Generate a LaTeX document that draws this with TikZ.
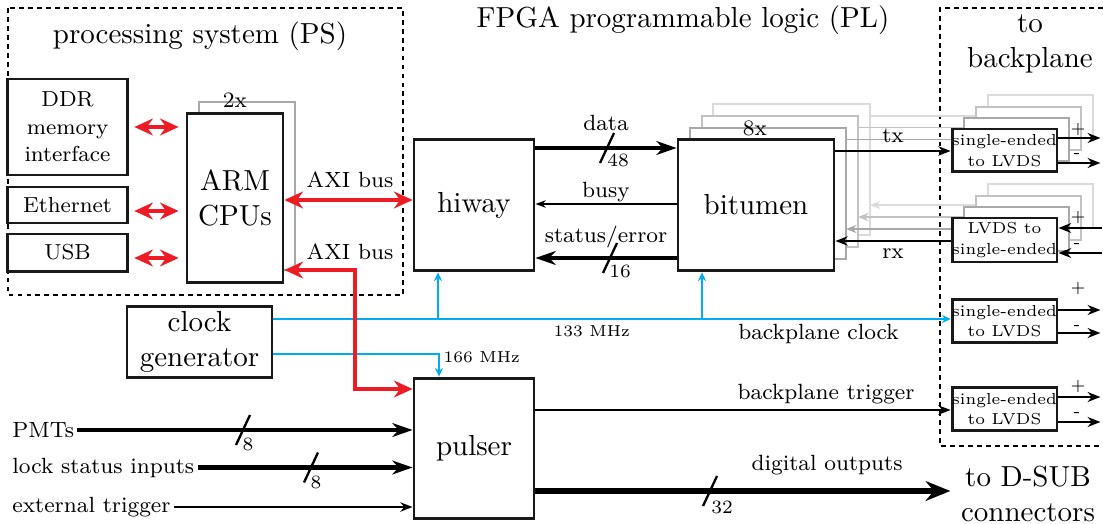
\documentclass[tikz,border=0pt]{standalone}
\usetikzlibrary{arrows.meta}
\definecolor{axired}{RGB}{237,28,36}
\definecolor{clkblue}{RGB}{0,174,239}
\definecolor{shA}{gray}{0.66}
\definecolor{shB}{gray}{0.76}
\definecolor{shC}{gray}{0.86}
\newcommand{\labfont}{\fontsize{7.6}{9.5}\selectfont}
\tikzset{
  box/.style={draw=black!90, line width=1pt, fill=white, inner sep=0pt, align=center},
  sebox/.style={box, minimum width=36.2pt, minimum height=14.8pt, font=\fontsize{5.5}{7}\selectfont},
  shbox/.style={draw=#1, line width=1pt, fill=white},
  dashbox/.style={dash pattern=on 1.7pt off 1.4pt, line width=0.45pt},
  lab/.style={font=\labfont, inner sep=0pt, anchor=base},
  inlab/.style={font=\labfont, anchor=west, inner sep=1pt},
  num/.style={font=\fontsize{6.5}{7}\selectfont, inner sep=0pt},
  pm/.style={font=\fontsize{5.5}{6}\selectfont, inner sep=0pt},
  mhz/.style={font=\fontsize{5.5}{7}\selectfont, inner sep=0pt},
  slash/.style={line width=0.8pt},
  thinarr/.style={line width=0.75pt, -{Stealth[length=4.2pt, width=3.2pt]}},
  busyarr/.style={line width=0.45pt, -{Stealth[length=3.6pt, width=2.6pt]}},
  outarr/.style={line width=0.9pt, -{Stealth[length=4.4pt, width=3.4pt]}},
  inarr/.style={line width=0.9pt, {Stealth[length=4.4pt, width=3.4pt]}-},
  thickarr/.style={line width=1.6pt, -{Stealth[length=7pt, width=4.8pt]}},
  digarr/.style={line width=2.2pt, -{Stealth[length=8.5pt, width=6.8pt]}},
  redarr/.style={draw=axired, line width=1.7pt, {Stealth[length=6.4pt, width=5.8pt]}-{Stealth[length=6.4pt, width=5.8pt]}},
  bluearr/.style={draw=clkblue, line width=0.5pt, -{Stealth[length=3pt, width=2.8pt]}},
  grayarr/.style={draw=#1, line width=0.6pt, -{Stealth[length=3.6pt, width=2.8pt]}},
}
\begin{document}
\begin{tikzpicture}[x=0.345pt, y=-0.345pt]
\useasboundingbox (0,0) rectangle (1103,523);

% ---------- containers ----------
\draw[dashbox] (8,8) rectangle (403,295);
\node (pstitle) at (200,36) {processing system (PS)};
\node (pltitle) at (683,20) {FPGA programmable logic (PL)};
\draw[dashbox] (1103,8) -- (940,8) -- (940,446) -- (1103,446);
\node[align=center, inner sep=0pt] (bptitle) at (1030,44) {to\\backplane};
\node[align=center, inner sep=0pt] (dsub) at (1028,494) {to D-SUB\\connectors};

% ---------- processing system ----------
\node[box, font=\fontsize{7.5}{9.5}\selectfont, minimum width=41.7pt, minimum height=33.1pt] (ddr) at (67.5,127) {DDR\\memory\\interface};
\node[box, font=\fontsize{7.5}{9.5}\selectfont, minimum width=41.7pt, minimum height=12.4pt] (eth) at (67.5,205) {Ethernet};
\node[box, font=\fontsize{7.5}{9.5}\selectfont, minimum width=41.7pt, minimum height=12.8pt] (usb) at (67.5,252.5) {USB};
\draw[shbox=shA, line width=0.8pt] (199,102) rectangle (295,270);
\node[box, minimum width=33.1pt, minimum height=58pt] (arm) at (235,198) {ARM\\CPUs};
\node[font=\labfont, inner sep=0pt] (twox) at (235,100) {2x};

\draw[redarr, shorten <=1.7pt, shorten >=2.4pt] (ddr.east |- 0,127) -- (arm.west |- 0,127);
\draw[redarr, shorten <=1.7pt, shorten >=2.4pt] (eth.east |- 0,211) -- (arm.west |- 0,211);
\draw[redarr, shorten <=1.7pt, shorten >=2.4pt] (usb.east |- 0,258) -- (arm.west |- 0,258);

% ---------- PL blocks ----------
\node[box, minimum width=41.4pt, minimum height=45.5pt] (hiway) at (474,205) {hiway};
\node[box, minimum width=41.4pt, minimum height=48.6pt] (pulser) at (474,448.5) {pulser};
\node[box, minimum width=50pt, minimum height=24.8pt] (clock) at (199.5,342) {clock\\generator};

% shadows, back to front
\draw[shbox=shC] (713,104) rectangle (870,235);
\draw[shbox=shC] (988,95) rectangle (1093,138);
\draw[shbox=shC] (988,184) rectangle (1093,228);
\draw[grayarr=shC] (870,116) -- (988,116);
\draw[grayarr=shC] (988,205) -- (870,205);
\draw[shbox=shB] (702,116) rectangle (858,247);
\draw[shbox=shB] (976,107) rectangle (1081,150);
\draw[shbox=shB] (976,196) rectangle (1081,240);
\draw[grayarr=shB] (858,127.5) -- (976,127.5);
\draw[grayarr=shB] (976,217) -- (858,217);
\draw[shbox=shA] (690,128) rectangle (846,259);
\draw[shbox=shA] (964,118) rectangle (1069,161);
\draw[shbox=shA] (964,207) rectangle (1069,251);
\draw[grayarr=shA] (846,139.5) -- (964,139.5);
\draw[grayarr=shA] (964,229) -- (846,229);

\node[box, minimum width=53.8pt, minimum height=45.5pt] (bitumen) at (756,205) {bitumen};
\node[font=\labfont, inner sep=0pt] (eightx) at (755,128) {8x};

\node[sebox] (se1) at (1004.5,150.5) {single-ended\\to LVDS};
\node[sebox, minimum height=15.2pt] (lvds) at (1004.5,240) {LVDS to\\single-ended};
\node[sebox] (seclk) at (1004.5,321) {single-ended\\to LVDS};
\node[sebox] (setrig) at (1004.5,409) {single-ended\\to LVDS};

% ---------- hiway <-> bitumen ----------
\draw[thickarr] (hiway.east |- 0,148) -- node[lab, yshift=6.2pt] {data} (bitumen.west |- 0,148);
\draw[slash] (607,148) ++(-7,15) -- ++(14,-30);
\node[num] at (618,160) {48};
\draw[busyarr] (bitumen.west |- 0,204) -- node[lab, yshift=2.2pt] {busy} (hiway.east |- 0,204);
\draw[thickarr] (bitumen.west |- 0,258) -- node[lab, yshift=5.5pt] {status/error} (hiway.east |- 0,258);
\draw[slash] (610,258) ++(-7,15) -- ++(14,-30);
\node[num] at (620,271) {16};

% ---------- bitumen <-> backplane ----------
\draw[thinarr] (bitumen.east |- 0,151) -- node[lab, yshift=2.8pt] {tx} (se1.west |- 0,151);
\draw[thinarr] (lvds.west |- 0,241) -- node[lab, yshift=-6.2pt] {rx} (bitumen.east |- 0,241);

\draw[outarr] (se1.east |- 0,138) -- ++(42,0);
\draw[outarr] (se1.east |- 0,163) -- ++(42,0);
\node[pm] at (1078,130) {+};
\node[pm] at (1077,156) {-};
\draw[inarr] (lvds.east |- 0,228) -- ++(44,0);
\draw[inarr] (lvds.east |- 0,253) -- ++(44,0);
\node[pm] at (1078,218) {+};
\node[pm] at (1077,245) {-};
\draw[outarr] (seclk.east |- 0,310) -- ++(42,0);
\draw[outarr] (seclk.east |- 0,333) -- ++(42,0);
\node[pm] at (1078,289) {+};
\node[pm] at (1077,327) {-};
\draw[outarr] (setrig.east |- 0,397) -- ++(42,0);
\draw[outarr] (setrig.east |- 0,422) -- ++(42,0);
\node[pm] at (1078,387) {+};
\node[pm] at (1077,414) {-};

% ---------- clocks ----------
\coordinate (bh) at (438,319);
\coordinate (bb) at (702,319);
\draw[bluearr] (clock.east |- 0,319)
  -- node[mhz, pos=0.47, anchor=base, yshift=-6.2pt] {133 MHz}
     node[lab, pos=0.805, yshift=-7.2pt] {backplane clock}
  (seclk.west |- 0,319);
\draw[bluearr] (bh) -- (hiway.south -| bh);
\draw[bluearr] (bb) -- (bitumen.south -| bb);
\draw[bluearr] (clock.east |- 0,354) -| (pulser.north -| 439,0);
\node[mhz, anchor=base west] at (443,362) {166 MHz};

% ---------- AXI buses ----------
\draw[redarr] (arm.east |- 0,200) -- (hiway.west |- 0,200);
\node[lab] at (350,188) {AXI bus};
\coordinate (axibend) at (355,389);
\draw[redarr] (arm.east |- 0,270) -| (axibend) -- (pulser.west |- axibend);
\node[lab] at (350,260) {AXI bus};

% ---------- pulser inputs ----------
\node[inlab] (pmts) at (9,430) {PMTs};
\draw[thickarr] (pmts.east) -- (pulser.west |- pmts.east);
\draw[slash] (243,430) ++(-7,15) -- ++(14,-30);
\node[num] at (248,444) {8};
\node[inlab] (lock) at (9,467.5) {lock status inputs};
\draw[thickarr] (lock.east) -- (pulser.west |- lock.east);
\draw[slash] (311,467.5) ++(-7,15) -- ++(14,-30);
\node[num] at (316,482) {8};
\node[inlab] (ext) at (9,507) {external trigger};
\draw[thinarr] (ext.east) -- (pulser.west |- ext.east);

% ---------- pulser outputs ----------
\draw[thinarr] (pulser.east |- 0,410) -- node[lab, pos=0.70, yshift=3.5pt] {backplane trigger} (setrig.west |- 0,410);
\draw[digarr, shorten >=3.5pt] (pulser.east |- 0,491) -- node[lab, pos=0.686, yshift=7.2pt] {digital outputs} (dsub.west |- 0,491);
\draw[slash] (710,491) ++(-7,15) -- ++(14,-30);
\node[num] at (722,507) {32};
\end{tikzpicture}
\end{document}
